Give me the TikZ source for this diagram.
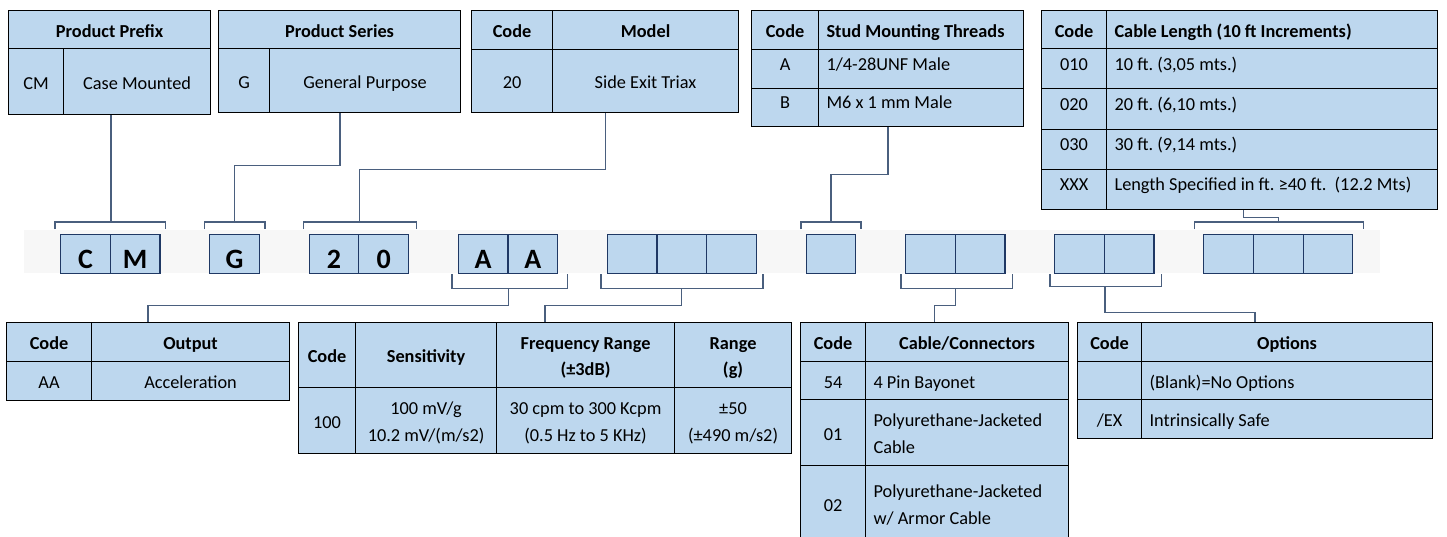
\documentclass[tikz,border=0pt]{standalone}
\usepackage{fontspec}
\setmainfont{Carlito}
\usepackage{tikz}
\usetikzlibrary{calc}
\frenchspacing

\definecolor{cellblue}{HTML}{BDD7EE}
\definecolor{boxline}{HTML}{1F3864}
\definecolor{linkline}{HTML}{4A5F7E}
\definecolor{stripgray}{HTML}{F7F7F7}

\tikzstyle{cell} = [rectangle, draw=black, line width=1.1pt, fill=cellblue, inner sep=0pt, anchor=north west, align=center, text height=17pt, text depth=2pt, font=\fontsize{18.3}{26.7}\selectfont]
\tikzstyle{head} = [cell, font=\bfseries\fontsize{18.3}{26.7}\selectfont]
\tikzstyle{lcell} = [cell, align=flush left, inner xsep=8pt]
\tikzstyle{lhead} = [head, align=flush left, inner xsep=8pt]
\tikzstyle{raised} = [text height=11pt, text depth=8pt]
\tikzstyle{twolines} = [text height=17pt, text depth=28.7pt]
\tikzstyle{twocentered} = [text height=43.7pt, text depth=2pt]
\tikzstyle{codebox} = [rectangle, draw=boxline, line width=1.2pt, fill=cellblue, inner sep=0pt, anchor=north west, minimum width=49.7pt, text height=34.5pt, text depth=5pt, font=\bfseries\fontsize{28}{28}\selectfont]
\tikzstyle{link} = [draw=linkline, line width=1.2pt]

\begin{document}
\begin{tikzpicture}[x=1pt, y=-1pt]
  \useasboundingbox (0,0) rectangle (1447,536);

  % code strip
  \fill[stripgray] (24,230) rectangle (1380,273);
  \foreach \i/\t in {0/C,1/M,3/G,5/2,6/0,8/A,9/A,11/,12/,13/,15/,17/,18/,20/,21/,23/,24/,25/}
    \node (b\i) [codebox] at (60+49.7*\i, 233.5) {\t};

  % product prefix
  \node (prefixH) [head, minimum width=202pt, minimum height=38pt] at (8,10) {Product Prefix};
  \node (prefixCode) [cell, minimum width=55pt, minimum height=66pt] at (8,48) {CM};
  \node (prefixDesc) [cell, minimum width=147pt, minimum height=66pt] at (63,48) {Case Mounted};

  % product series
  \node (seriesH) [head, minimum width=242pt, minimum height=38pt] at (218,10) {Product Series};
  \node (seriesCode) [cell, minimum width=51pt, minimum height=64pt] at (218,48) {G};
  \node (seriesDesc) [cell, minimum width=191pt, minimum height=64pt] at (269,48) {General Purpose};

  % model
  \node (modelCodeH) [head, minimum width=81pt, minimum height=39pt] at (471,10) {Code};
  \node (modelH) [head, minimum width=186pt, minimum height=39pt] at (552,10) {Model};
  \node (modelCode) [cell, minimum width=81pt, minimum height=63pt] at (471,49) {20};
  \node (modelDesc) [cell, minimum width=186pt, minimum height=63pt] at (552,49) {Side Exit Triax};

  % stud threads
  \node (studCodeH) [head, minimum width=67pt, minimum height=39pt] at (751,10) {Code};
  \node (studH) [lhead, text width=189pt, minimum height=39pt] at (818,10) {Stud Mounting Threads};
  \foreach \c/\d [count=\k from 0] in {A/{1/4-28UNF Male}, B/{M6 x 1 mm Male}} {
    \node (stud\c) [cell, raised, minimum width=67pt, minimum height=38.5pt] at (751,49+38.5*\k) {\c};
    \node (studtxt\c) [lcell, raised, text width=189pt, minimum height=38.5pt] at (818,49+38.5*\k) {\d};
  }

  % cable length
  \node (lenCodeH) [head, minimum width=65pt, minimum height=38pt] at (1041,10) {Code};
  \node (lenH) [lhead, text width=315pt, minimum height=38pt] at (1106,10) {Cable Length (10 ft Increments)};
  \foreach \c/\d [count=\k from 0] in {010/{10 ft. (3,05 mts.)}, 020/{20 ft. (6,10 mts.)}, 030/{30 ft. (9,14 mts.)}, XXX/{Length Specified in ft. ≥40 ft.\ \ (12.2 Mts)}} {
    \node (len\c) [cell, raised, minimum width=65pt, minimum height=40.25pt] at (1041,48+40.25*\k) {\c};
    \node (lentxt\c) [lcell, raised, text width=315pt, minimum height=40.25pt] at (1106,48+40.25*\k) {\d};
  }

  % output
  \node (outCodeH) [head, minimum width=85pt, minimum height=39pt] at (6,322) {Code};
  \node (outH) [head, minimum width=198pt, minimum height=39pt] at (91,322) {Output};
  \node (outCode) [cell, minimum width=85pt, minimum height=39pt] at (6,361) {AA};
  \node (outDesc) [cell, minimum width=198pt, minimum height=39pt] at (91,361) {Acceleration};

  % sensitivity / frequency / range
  \node (sensCodeH) [head, minimum width=57pt, minimum height=65pt] at (298,322) {Code};
  \node (sensH) [head, minimum width=141pt, minimum height=65pt] at (355,322) {Sensitivity};
  \node (freqH) [head, twocentered, minimum width=178pt, minimum height=65pt] at (496,322) {Frequency Range\\(±3dB)};
  \node (rangeH) [head, twocentered, minimum width=117pt, minimum height=65pt] at (674,322) {Range\\(g)};
  \node (sensCode) [cell, minimum width=57pt, minimum height=66pt] at (298,387) {100};
  \node (sensVal) [cell, twocentered, minimum width=141pt, minimum height=66pt] at (355,387) {100 mV/g\\10.2 mV/(m/s2)};
  \node (freqVal) [cell, twocentered, minimum width=178pt, minimum height=66pt] at (496,387) {30 cpm to 300 Kcpm\\(0.5 Hz to 5 KHz)};
  \node (rangeVal) [cell, twocentered, minimum width=117pt, minimum height=66pt] at (674,387) {±50\\(±490 m/s2)};

  % cable / connectors
  \node (cabCodeH) [head, minimum width=65pt, minimum height=39pt] at (800,322) {Code};
  \node (cabH) [head, minimum width=203pt, minimum height=39pt] at (865,322) {Cable/Connectors};
  \node (cab54) [cell, minimum width=65pt, minimum height=38pt] at (800,361) {54};
  \node (cabtxt54) [lcell, text width=187pt, minimum height=38pt] at (865,361) {4 Pin Bayonet};
  \node (cab01) [cell, minimum width=65pt, minimum height=66pt] at (800,399) {01};
  \node (cabtxt01) [lcell, twolines, text width=187pt, minimum height=66pt] at (865,399) {Polyurethane-Jacketed\\Cable};
  \node (cab02) [cell, minimum width=65pt, minimum height=76pt] at (800,465) {02};
  \node (cabtxt02) [lcell, twolines, text width=187pt, minimum height=76pt] at (865,465) {Polyurethane-Jacketed\\w/ Armor Cable};

  % options
  \node (optCodeH) [head, minimum width=64pt, minimum height=39pt] at (1077,322) {Code};
  \node (optH) [head, minimum width=291pt, minimum height=39pt] at (1141,322) {Options};
  \node (optBlank) [cell, minimum width=64pt, minimum height=38pt] at (1077,361) {};
  \node (opttxtBlank) [lcell, text width=275pt, minimum height=38pt] at (1141,361) {(Blank)=No Options};
  \node (optEX) [cell, minimum width=64pt, minimum height=39pt] at (1077,399) {/EX};
  \node (opttxtEX) [lcell, text width=275pt, minimum height=39pt] at (1141,399) {Intrinsically Safe};

  % brackets and links above the strip
  \draw [link] ([shift={(-5,-4.5)}]b0.north west) -- ++(0,-7) -| ([shift={(5,-4.5)}]b1.north east);
  \draw [link] (prefixDesc.south -| b0.east) -- ([shift={(0,-11.5)}]b0.north east);
  \draw [link] ([shift={(-5,-4.5)}]b3.north west) -- ++(0,-7) -| ([shift={(5,-4.5)}]b3.north east);
  \draw [link] ([xshift=-25pt]seriesDesc.south) -- ++(0,52) -| ([shift={(0,-11.5)}]b3.north);
  \draw [link] ([shift={(-5,-4.5)}]b5.north west) -- ++(0,-7) -| ([shift={(7,-4.5)}]b6.north east);
  \draw [link] ([xshift=-40pt]modelDesc.south) -- ++(0,56) -| ([shift={(0,-11.5)}]b5.north east);
  \draw [link] ([shift={(-4.5,-4.5)}]b15.north west) -- ++(0,-7) -| ([shift={(4.5,-4.5)}]b15.north east);
  \draw [link] ([xshift=-33pt]studtxtB.south) -- ++(0,47) -| ([shift={(0,-11.5)}]b15.north);
  \draw [link] ([shift={(-9,-4.5)}]b23.north west) -- ++(0,-7) -| ([shift={(10,-4.5)}]b25.north east);
  \draw [link] ([xshift=-28.5pt]lentxtXXX.south) -- ++(0,7) -| ([shift={(0,-11.5)}]b24.north);

  % brackets and links below the strip
  \draw [link] ([xshift=-5.6pt]b8.south west) -- ++(0,14) -| ([xshift=9pt]b9.south east);
  \draw [link] ([shift={(0,14)}]b8.south east) -- ++(0,17) -| ($(outCodeH.north west)!0.5!(outH.north east)$);
  \draw [link] ([xshift=-5.7pt]b11.south west) -- ++(0,14) -| ([xshift=6pt]b13.south east);
  \draw [link] ([shift={(0,14)}]b12.south) -- ++(0,17) -| ($(sensCodeH.north west)!0.5!(rangeH.north east)$);
  \draw [link] ([xshift=-4pt]b17.south west) -- ++(0,14) -| ([xshift=7pt]b18.south east);
  \draw [link] ([shift={(0,14)}]b17.south east) -- ++(0,17) -| ($(cabCodeH.north west)!0.5!(cabH.north east)$);
  \draw [link] ([xshift=-4pt]b20.south west) -- ++(0,12) -| ([xshift=6.6pt]b21.south east);
  \draw [link] ([shift={(0,12)}]b20.south east) -- ++(0,26) -| ($(optCodeH.north west)!0.5!(optH.north east)$);

\end{tikzpicture}
\end{document}
